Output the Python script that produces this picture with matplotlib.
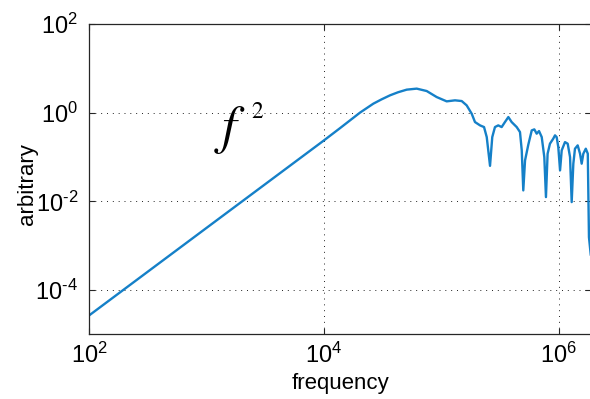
import numpy as np
import matplotlib
matplotlib.use("Agg")
import matplotlib.pyplot as plt
from matplotlib.ticker import FixedLocator, FuncFormatter, NullLocator

plt.rcParams['font.family'] = ['Liberation Sans', 'DejaVu Sans']
plt.rcParams['mathtext.fontset'] = 'custom'
plt.rcParams['mathtext.rm'] = 'Liberation Sans'

# ---- data (as decade exponents) ----
log10_freq = [2.0, 3.0, 4.0, 4.136, 4.306, 4.42, 4.49, 4.562, 4.63, 4.704,
              4.789, 4.874, 4.959, 5.044, 5.115, 5.172, 5.214, 5.257, 5.285,
              5.328, 5.362, 5.385, 5.413, 5.432, 5.455, 5.483, 5.512, 5.54,
              5.569, 5.597, 5.64, 5.668, 5.683, 5.696, 5.711, 5.739, 5.768,
              5.79, 5.81, 5.83, 5.853, 5.875, 5.889, 5.903, 5.923, 5.951,
              5.966, 5.98, 5.994, 6.009, 6.023, 6.051, 6.074, 6.094, 6.108,
              6.122, 6.136, 6.159, 6.179, 6.193, 6.207, 6.228, 6.245, 6.255,
              6.27]
log10_amp = [-4.576, -2.60, -0.625, -0.35, 0.0, 0.203, 0.30, 0.391, 0.46,
             0.519, 0.542, 0.488, 0.352, 0.255, 0.278, 0.262, 0.165, -0.023,
             -0.212, -0.287, -0.325, -0.551, -1.2, -0.551, -0.325, -0.287,
             -0.325, -0.212, -0.099, -0.212, -0.325, -0.438, -0.851, -1.754,
             -1.077, -0.72, -0.40, -0.377, -0.474, -0.415, -0.551, -1.002,
             -1.905, -0.926, -0.70, -0.587, -0.512, -0.551, -0.777, -1.302,
             -0.851, -0.664, -0.70, -1.002, -2.018, -1.151, -0.813, -0.738,
             -0.926, -1.151, -0.926, -0.813, -0.926, -2.81, -3.2]
x_tick_exps = [2, 4, 6]
y_tick_exps = [-4, -2, 0, 2]
x_label = "frequency"
y_label = "arbitrary"

freq = 10.0 ** np.array(log10_freq)
amp = 10.0 ** np.array(log10_amp)

fig = plt.figure(figsize=(5.9, 3.99), dpi=100)
fig.patch.set_facecolor('white')
W, H = 590.0, 399.0
ax_l, ax_r, ax_t, ax_b = 89.0, 591.0, 24.0, 334.3
ax = fig.add_axes([ax_l / W, (H - ax_b) / H, (ax_r - ax_l) / W, (ax_b - ax_t) / H])

ax.plot(freq, amp, color='#1580C8', lw=1.7, solid_joinstyle='round')
ax.set_xscale('log')
ax.set_yscale('log')
ax.set_xlim(1e2, 10 ** (6 + (ax_r - 559.0) / 117.5))
ax.set_ylim(1e-5, 1e2)


def dec_label(v, pos):
    e = int(round(np.log10(v)))
    s = str(e).replace('-', '\u2010')
    return r'$\mathregular{10^{%s}}$' % s


ax.xaxis.set_major_locator(FixedLocator([10.0 ** e for e in x_tick_exps]))
ax.yaxis.set_major_locator(FixedLocator([10.0 ** e for e in y_tick_exps]))
ax.xaxis.set_minor_locator(NullLocator())
ax.yaxis.set_minor_locator(NullLocator())
ax.xaxis.set_major_formatter(FuncFormatter(dec_label))
ax.yaxis.set_major_formatter(FuncFormatter(dec_label))

ax.tick_params(which='major', direction='in', length=4, width=0.8, color='#262626',
               labelsize=17, top=True, right=True, labelcolor='black')
ax.tick_params(axis='x', pad=6)
ax.tick_params(axis='y', pad=8)

ax.grid(True, which='major', color='#222222', lw=0.7, linestyle=(0, (1, 5)))
for s in ax.spines.values():
    s.set_color('#262626')
    s.set_linewidth(0.9)

ax.set_xlabel(x_label, fontsize=16)
ax.set_ylabel(y_label, fontsize=16)
ax.xaxis.set_label_coords(0.5, -0.126)
ax.yaxis.set_label_coords((27.5 - ax_l) / (ax_r - ax_l), (ax_b - 184.0) / (ax_b - ax_t))
ax.yaxis.label.set_va('center')

ax.text(10 ** 3.06, 10 ** -0.693, r'$f$', math_fontfamily='stix',
        fontsize=38, ha='left', va='baseline')
ax.text(10 ** 3.375, 10 ** -0.129, r'$\mathrm{2}$', math_fontfamily='stix',
        fontsize=17, ha='left', va='baseline')

fig.savefig('out.png', dpi=100, facecolor='white')
